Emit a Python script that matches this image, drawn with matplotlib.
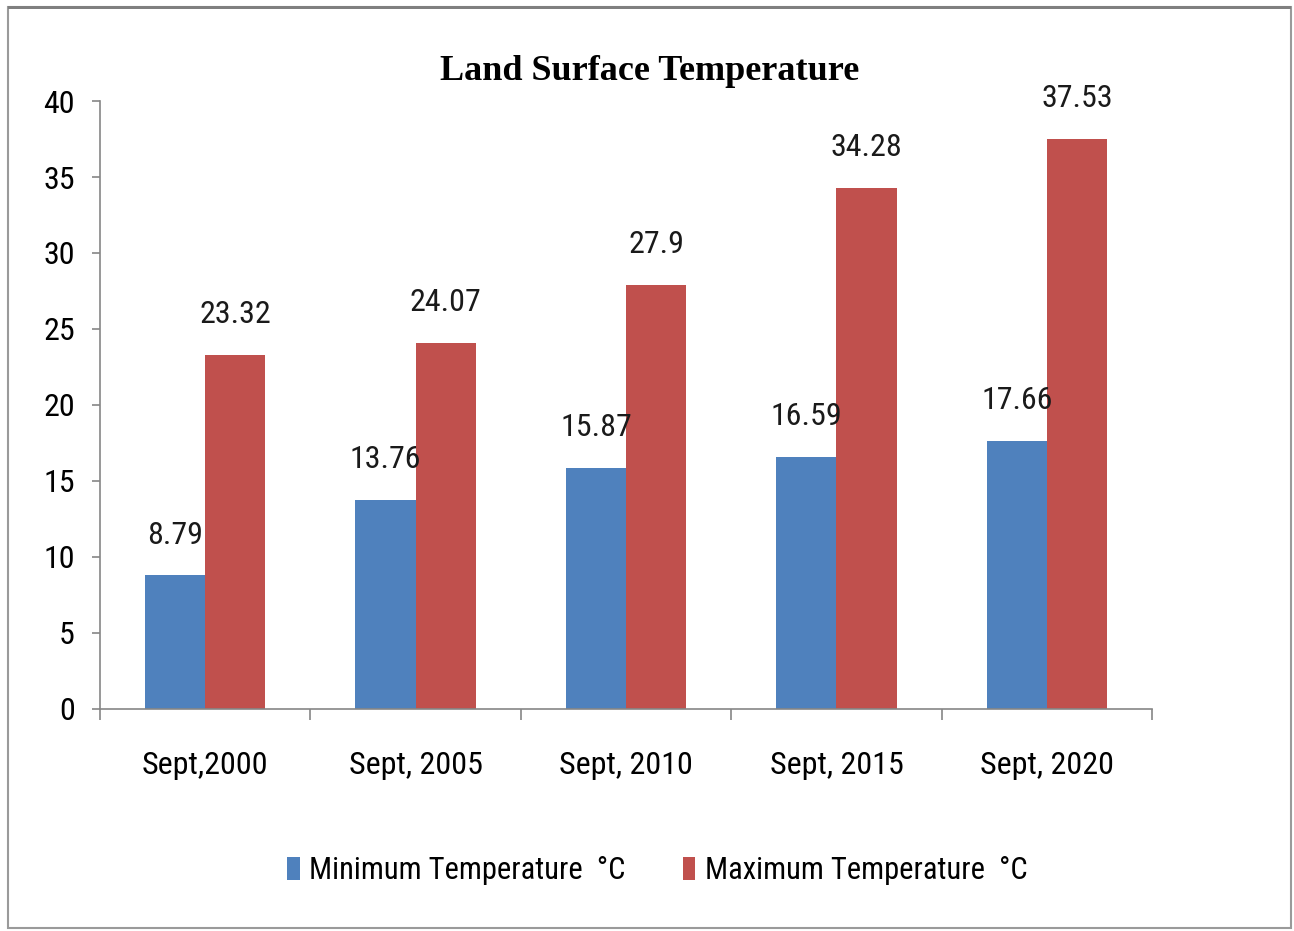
import numpy as np
import matplotlib.pyplot as plt
from matplotlib.patches import Rectangle

# Data
categories = ["Sept,2000", "Sept, 2005", "Sept, 2010", "Sept, 2015", "Sept, 2020"]
min_temp = [8.79, 13.76, 15.87, 16.59, 17.66]
max_temp = [23.32, 24.07, 27.9, 34.28, 37.53]
min_labels = ["8.79", "13.76", "15.87", "16.59", "17.66"]
max_labels = ["23.32", "24.07", "27.9", "34.28", "37.53"]

blue = "#4F81BD"
red = "#C0504D"
axis_gray = "#868686"

plt.rcParams['font.family'] = ['Roboto Condensed', 'DejaVu Sans']

fig = plt.figure(figsize=(12.94, 9.31), dpi=100)
ax = fig.add_axes([0.0773, 0.2385, 0.813, 0.653])

x = np.arange(len(categories))
w = 0.286
b1 = ax.bar(x - w / 2, min_temp, w, color=blue, label="Minimum Temperature  °C")
b2 = ax.bar(x + w / 2, max_temp, w, color=red, label="Maximum Temperature  °C")

for bars, labs in ((b1, min_labels), (b2, max_labels)):
    for r, lab in zip(bars, labs):
        ax.annotate(lab, (r.get_x() + r.get_width() / 2, r.get_height()),
                    xytext=(0, 29), textcoords="offset points",
                    ha="center", va="center", fontsize=23, color="#1a1a1a")

ax.set_xlim(-0.5, len(categories) - 0.5)
ax.set_ylim(0, 40)
ax.set_yticks(np.arange(0, 41, 5))

ax.set_xticks(x)
ax.set_xticklabels(categories)
ax.set_xticks(np.arange(-0.5, len(categories), 1), minor=True)
ax.tick_params(axis="x", which="major", length=0, pad=30, labelsize=23)
ax.tick_params(axis="x", which="minor", length=8, width=1.2, color=axis_gray, direction="out")
ax.tick_params(axis="y", length=6, width=1.2, color=axis_gray, pad=12, labelsize=23)

for s in ("top", "right"):
    ax.spines[s].set_visible(False)
for s in ("left", "bottom"):
    ax.spines[s].set_color(axis_gray)
    ax.spines[s].set_linewidth(1.2)

fig.text(0.502, 0.923, "Land Surface Temperature", ha="center", va="center",
         fontsize=26, fontweight="bold", family=["Liberation Serif", "DejaVu Serif"])

fig.legend(handles=[b1, b2], loc="center", bbox_to_anchor=(0.508, 0.065), ncol=2,
           frameon=False, fontsize=22, handlelength=0.4, handleheight=0.75,
           handletextpad=0.3, columnspacing=1.9)

# outer frame
fig.patches.append(Rectangle((0.006, 0.003), 0.992, 0.99, transform=fig.transFigure,
                             fill=False, edgecolor="#9a9a9a", linewidth=1.5))
fig.patches.append(Rectangle((0.006, 0.99), 0.992, 0.004, transform=fig.transFigure,
                             facecolor="#808080", edgecolor="none"))

fig.savefig("out.png", dpi=100)
